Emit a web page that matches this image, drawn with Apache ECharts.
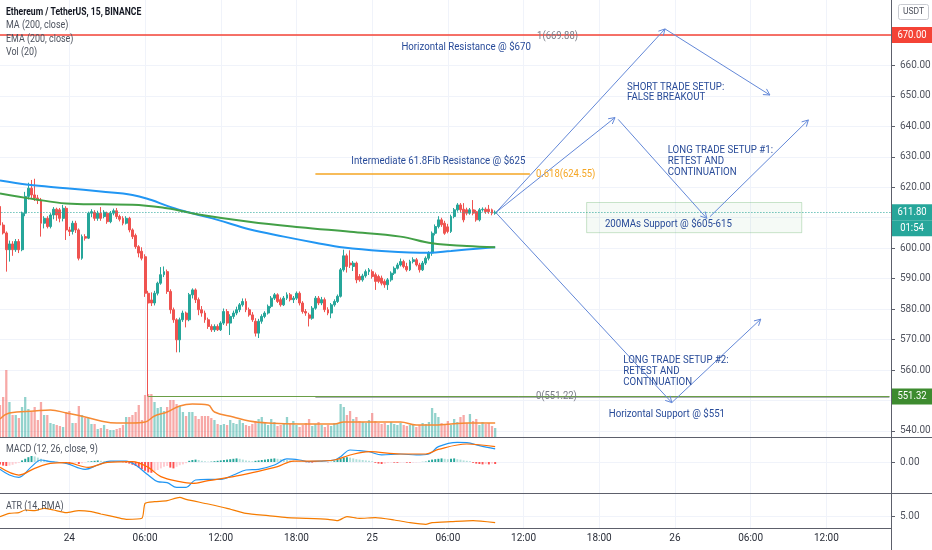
<!DOCTYPE html>
<html><head><meta charset="utf-8">
<script src="https://cdn.jsdelivr.net/npm/echarts@6/dist/echarts.min.js"></script>
<style>html,body{margin:0;padding:0;background:#fff}#c{width:932px;height:550px}</style>
</head><body><div id="c"></div>
<script>
// ---------- DATA ----------
const START_TIME = '2020-11-23T18:30:00';
const SLOT_COUNT = 283;
const tickSlots  = [22, 46, 70, 94, 118, 142, 166, 190, 214, 238, 262];
const tickLabels = ['24','06:00','12:00','18:00','25','06:00','12:00','18:00','26','06:00','12:00'];
const priceTicks = [540,550,560,570,580,590,600,610,620,630,640,650,660,670];
const priceLabels = [540,550,560,570,580,590,600,610,620,630,640,650,660];

// [open, close, low, high]
const candles = [
[613.7,607.6,606.5,614.5],[607.6,605.0,604.5,608.5],[605.0,599.5,592.3,605.5],[599.5,601.4,595.6,602.5],
[601.4,599.5,597.5,602.3],[599.5,602.2,598.8,603.0],[602.2,599.5,598.4,603.0],[599.5,611.5,599.0,612.0],
[611.5,617.0,610.5,618.5],[617.0,619.7,616.0,621.5],[619.7,617.5,616.5,622.4],[617.5,616.5,615.5,622.8],
[616.5,615.8,614.5,617.5],[615.8,608.2,603.8,616.5],[608.2,609.8,606.5,610.5],[609.8,607.1,606.5,610.5],
[607.1,610.9,606.5,611.5],[610.9,612.8,609.5,613.5],[612.8,610.9,609.0,613.3],[612.6,609.8,608.5,613.2],
[609.8,613.1,608.8,614.2],[613.1,606.0,602.7,613.8],[606.0,605.5,604.0,607.0],[605.5,608.2,604.5,609.0],
[608.2,606.0,605.0,609.0],[606.0,596.7,596.0,606.5],[596.7,603.8,596.2,604.5],[603.8,603.3,602.5,604.6],
[603.3,611.5,603.0,612.0],[611.5,612.0,610.2,612.8],[611.8,609.8,609.0,612.5],[609.8,611.5,609.0,612.3],
[611.5,609.8,609.0,613.5],[610.4,611.8,609.8,612.5],[611.5,608.7,608.0,612.0],[608.7,611.5,608.2,612.2],
[611.5,612.3,610.8,613.0],[612.3,610.4,609.6,613.2],[610.4,609.5,608.8,611.0],[609.8,608.2,607.5,610.5],
[608.2,609.8,607.8,610.5],[609.8,606.0,605.2,610.3],[606.0,603.8,603.0,606.5],[604.2,600.5,599.8,604.8],
[600.5,598.4,597.0,601.0],[599.0,596.7,596.0,600.3],[597.2,585.2,584.0,598.0],[585.2,582.0,551.3,586.0],
[583.0,582.0,581.0,585.5],[582.0,585.2,581.2,586.0],[585.2,588.5,584.5,589.0],[588.5,591.3,588.0,593.8],
[591.3,592.3,590.5,594.0],[592.3,585.8,585.0,593.0],[585.8,579.8,578.5,586.5],[579.8,576.5,575.5,580.5],
[576.5,569.9,565.8,577.0],[569.9,576.5,565.8,577.2],[576.5,578.7,575.8,579.5],[578.7,576.5,574.0,579.2],
[576.5,584.7,576.0,585.3],[584.7,586.3,583.5,586.8],[586.3,583.1,582.0,586.8],[583.1,579.8,578.0,583.8],
[579.8,578.7,577.5,581.0],[578.7,576.5,575.5,579.5],[576.5,574.3,573.5,577.2],[574.3,573.2,572.5,575.0],
[573.2,574.3,572.5,575.0],[574.3,573.2,572.8,575.0],[573.2,575.4,572.8,576.0],[575.4,579.2,574.8,580.2],
[579.2,575.4,574.5,580.0],[575.4,577.6,571.5,578.3],[577.6,578.7,576.8,579.5],[578.7,579.8,578.0,580.8],
[579.8,581.4,579.0,582.0],[581.4,582.5,580.8,583.5],[582.5,579.8,579.0,583.5],[579.8,578.1,577.5,580.5],
[578.1,576.5,575.8,579.0],[576.0,572.1,571.0,577.0],[572.1,576.0,570.5,576.8],[576.0,577.6,575.2,578.3],
[577.6,578.7,577.0,579.3],[578.7,580.9,578.2,581.5],[580.9,583.6,580.3,584.3],[583.6,584.7,583.0,585.3],
[584.7,582.5,582.0,585.2],[583.1,581.4,580.8,583.8],[581.4,583.6,581.0,584.3],[583.6,584.7,583.0,585.5],
[584.7,583.1,582.5,585.3],[583.1,583.6,582.0,584.3],[583.6,585.2,583.0,585.8],[585.2,582.0,581.2,585.8],
[582.0,579.2,578.5,582.6],[579.2,578.7,577.8,580.0],[578.1,577.0,574.3,578.8],[577.0,580.3,576.5,581.0],
[580.3,583.6,579.8,584.3],[583.6,582.0,581.3,584.3],[582.0,583.1,581.3,584.0],[583.1,579.8,579.0,583.8],
[579.8,578.7,578.0,580.6],[578.7,581.4,577.0,582.0],[581.4,582.5,580.8,583.2],[582.5,584.2,582.0,584.8],
[584.2,592.9,583.8,593.5],[592.9,597.5,592.3,599.5],[597.5,594.0,592.0,598.2],[595.1,594.5,593.5,599.3],
[594.0,595.1,592.5,595.8],[595.1,589.6,588.5,595.6],[590.7,589.6,589.0,591.5],[589.6,590.9,589.0,591.6],
[590.9,592.3,590.3,593.0],[592.3,592.9,591.2,593.5],[592.3,590.7,590.0,593.0],[591.3,589.1,586.3,592.0],
[590.7,589.1,588.5,591.3],[590.2,588.5,587.8,591.0],[589.1,588.0,587.0,589.8],[588.0,589.6,586.3,590.2],
[589.6,591.8,589.0,592.4],[591.8,593.4,591.2,594.0],[593.4,594.5,593.0,595.2],[594.5,595.6,594.0,596.6],
[595.6,594.0,593.4,596.2],[594.0,592.9,592.3,595.2],[592.9,595.6,592.5,596.2],[595.6,596.2,595.0,597.0],
[596.2,594.5,594.0,596.8],[594.5,592.9,592.0,595.2],[592.9,595.1,592.5,595.8],[595.1,596.7,594.5,597.3],
[596.7,598.4,596.0,599.0],[598.4,604.9,597.5,605.5],[604.9,607.1,604.2,607.8],[607.1,609.3,606.5,610.5],
[609.3,607.7,607.0,610.0],[608.2,604.9,604.4,609.0],[607.0,605.5,604.9,608.0],[605.5,610.4,605.0,611.0],
[610.4,612.6,609.8,613.2],[612.6,614.2,612.0,614.8],[614.2,612.6,611.8,614.8],[612.8,609.3,608.5,614.8],
[612.6,611.5,610.8,613.3],[611.5,612.6,611.0,613.2],[612.6,611.5,610.8,615.8],[612.0,609.3,608.7,612.6],
[609.3,612.6,608.8,613.2],[612.6,612.8,612.0,613.4],[612.8,612.0,611.3,613.4],[612.8,612.0,611.3,614.2],
[612.6,611.5,610.8,613.0],[611.5,611.8,611.0,612.4]
];

const volumes = [
32,40,67,35,22,22,19,30,40,28, 25,30,17,35,22,22,14,13,12,11,
10,25,26,14,14,31,22,19,19,13, 13,8,9,12,8,7,7,8,9,12,
20,20,22,25,32,17,42,43,43,35, 29,30,26,30,37,37,33,31,25,21,
25,25,21,18,21,21,21,19,17,13, 12,13,12,17,14,13,17,14,12,11,
13,16,18,20,14,12,18,15,11,12,14,20,13,16,12,10,12,14,18,11,13,15,12,10,12,11,14,13,
33,30,22,26,18,20,16,15,14,17,24,16,14,
13,14,12,15,13,12,14,12,11,12,13,10,12,14,13,15,
29,24,20,14,13,16,12,18,15,20,22,14,23,16,18,12,15,13,14,11,9
];

const maIdx  = [0,9,21,32,42,48,53,59,63,69,79,90,100,109,121,136,143,153,157];
const maVal  = [622.2,620.8,619.7,618.6,617.5,615.8,613.9,612.0,610.9,609.3,606.2,603.8,601.8,600.2,599.1,598.5,599.1,600.0,600.3];
const emaIdx = [0,11,21,32,42,53,63,79,95,111,127,137,148,157];
const emaVal = [618.0,616.1,614.7,614.4,614.3,613.1,611.1,608.7,606.9,605.4,603.8,601.6,600.7,600.3];
const volMaIdx = [0,3,11,16,21,27,32,37,42,46,49,53,57,61,66,68,74,79,85,95,106,109,116,127,132,137,143,148,157];
const volMaVal = [18,24,26,27,24,20,16,14,14,15,21,25,31,33,32,25,20,16,14,13,13,15,15,15,12,12,13,14,14];

const macdIdx = [0,3,6,10,13,16,21,27,31,35,40,43,47,50,53,56,59,62,66,70,74,78,82,87,91,95,98,102,106,108,111,114,117,121,127,132,136,139,145,148,152,157];
const macdVal = [-0.92,-1.63,-1.92,-0.58,0.25,0.04,-0.17,-0.92,-0.38,0.12,0.12,-0.38,-1.63,-2.46,-2.58,-3.17,-3.17,-2.25,-2.17,-2.17,-1.63,-1.0,-0.92,-0.38,0.38,0.25,0.04,0.12,0.25,0.67,1.5,1.42,1.29,0.88,1.0,0.88,1.0,1.92,2.46,2.42,2.04,1.63];
const sigIdx = [0,6,11,16,21,28,34,42,47,51,57,61,66,74,80,88,93,100,106,111,117,127,135,139,148,157];
const sigVal = [-0.67,-1.63,-0.79,-0.17,-0.08,-0.67,-0.05,0.04,-0.67,-1.83,-2.46,-2.67,-2.33,-1.83,-1.33,-0.58,0.12,0.12,0.25,0.88,1.29,1.0,1.0,1.58,2.25,1.92];
const macdHist = [
-0.3,-0.45,-0.5,-0.45,-0.35,-0.2,-0.1,
0.2,0.4,0.6,0.75,0.7,
0.55,0.4,0.3,0.2,0.15,
0.1,0.05,-0.05,-0.1,-0.2,-0.3,
-0.15,-0.1,-0.25,-0.15,-0.05,
0.05,0.1,0.15,0.2,0.15,0.1,0.1,0.05,
0.05,0.02,0,-0.03,-0.1,
-0.2,-0.35,-0.5,-0.7,-0.9,-1.1,-1.3,-1.35,-1.2,
-1.0,-0.8,-0.6,-0.5,-0.7,-0.8,-0.6,-0.4,-0.3,-0.15,
0.15,0.25,0.3,0.25,0.15,0.1,0.05,0.05,0.1,
0.15,0.2,0.25,0.3,0.35,0.4,0.45,0.4,0.3,
0.2,0.15,0.1,
0.15,0.2,0.25,0.3,0.35,0.4,0.45,0.4,0.35,
0.3,0.25,0.2,0.15,0.1,0.05,
0.02,-0.03,-0.05,-0.08,-0.05,0.02,0.03,0.02,-0.02,0.03,0.1,
0.3,0.45,0.55,0.6,0.55,0.45,
0.35,0.3,0.25,0.2,0.15,0.1,
-0.1,-0.2,-0.25,-0.2,-0.1,
-0.05,-0.08,-0.1,-0.06,-0.05,-0.08,-0.1,-0.07,-0.05,-0.03,0.02,0.05,
0.2,0.3,0.35,0.4,0.45,0.4,0.35,0.4,0.45,
0.35,0.3,0.2,0.15,0.1,
-0.1,-0.2,-0.25,-0.3,-0.25,-0.3,-0.2,-0.25
];
const atrIdx = [0,3,6,8,11,14,17,21,25,29,32,37,40,45,46,49,53,57,59,66,72,78,85,91,97,104,107,110,114,119,125,130,135,137,143,150,157];
const atrVal = [4.92,5.33,5.42,5.75,5.67,5.96,5.75,5.42,5.67,5.54,5.25,4.83,4.58,4.71,6.58,6.79,6.92,7.33,7.08,6.5,5.96,5.33,5.04,4.79,4.71,4.58,4.42,4.92,4.71,4.79,4.5,4.17,3.96,4.17,4.29,4.42,4.17];

// price levels
const resistance = 670.00, lastPrice = 611.80, support = 551.32;
const fibStartIdx = 100, fibLevels = [669.88, 624.55, 551.22], fib618EndIdx = 168;
const supportStartIdx = 47;

// annotations: [slot index, price]
const arrows = [
  [[157.3,611.8],[210.85,672.0]], [[210.85,672.0],[244.1,650.3]],
  [[157.3,611.8],[195.0,642.9]],  [[196.0,642.3],[224.1,609.8]], [[225.1,610.35],[256.3,642.1]],
  [[157.3,611.6],[213.0,549.3]],  [[213.0,549.3],[241.2,576.7]]
];
const noteTexts = [
  ['Horizontal Resistance @ $670', 147.8, 666.1, 'center'],
  ['Intermediate 61.8Fib Resistance @ $625', 139.0, 628.6, 'center'],
  ['SHORT TRADE SETUP:', 198.8, 653.0, 'left'],
  ['FALSE BREAKOUT', 198.8, 649.5, 'left'],
  ['LONG TRADE SETUP #1:', 211.7, 632.2, 'left'],
  ['RETEST AND', 211.7, 628.7, 'left'],
  ['CONTINUATION', 211.7, 625.1, 'left'],
  ['200MAs Support @ $605-615', 191.8, 608.0, 'left'],
  ['LONG TRADE SETUP #2:', 197.6, 563.1, 'left'],
  ['RETEST AND', 197.6, 559.6, 'left'],
  ['CONTINUATION', 197.6, 556.0, 'left'],
  ['Horizontal Support @ $551', 211.45, 545.6, 'center']
];
const fibTexts = [
  ['1(669.88)', 170.3, 669.7, '#787b86'],
  ['0.618(624.55)', 169.95, 624.4, '#f5a623'],
  ['0(551.22)', 169.95, 551.3, '#787b86']
];
const supportBox = [[186.0, 615.0], [254.2, 605.1]];

// ---------- CHART ----------
const FONT = "Roboto,'Liberation Sans',sans-serif";
const categories = [];
const t0 = new Date(START_TIME).getTime();
for (let i = 0; i < SLOT_COUNT; i++) {
  const d = new Date(t0 + i * 900000);
  categories.push(d.getDate() + ' ' + String(d.getHours()).padStart(2,'0') + ':' + String(d.getMinutes()).padStart(2,'0'));
}
const tickSet = new Set(tickSlots);
const labelMap = {}; tickSlots.forEach((s,k)=>labelMap[s]=tickLabels[k]);
const pairs = (ix, vs) => ix.map((x,k)=>[x, vs[k]]);
const GRID_C = '#f0f3fa', LINE_C = '#5d606b', AX_TXT = '#50535e';

const volData = volumes.map((v,i)=>({value:v, itemStyle:{color: candles[i][1] >= candles[i][0] ? 'rgba(38,166,154,0.5)' : 'rgba(239,83,80,0.5)'}}));
const histData = macdHist.map((v,i)=>{
  const p = i > 0 ? macdHist[i-1] : 0;
  const c = v >= 0 ? (v >= p ? '#26a69a' : '#b2dfdb') : (v <= p ? '#ff5252' : '#ffcdd2');
  return {value:v, itemStyle:{color:c}};
});

const gridBase = {left:-1.6, right:41, outerBoundsMode:'none', containLabel:false};
const xBase = (gi, showLabel) => ({
  type:'category', gridIndex:gi, data:categories, boundaryGap:true,
  axisLine:{show:false}, axisTick:{show:false},
  axisLabel:{show:showLabel, interval:(i)=>tickSet.has(i), formatter:(v,i)=>labelMap[i] || '',
    color:'#2a2e39', fontSize:10, margin:5, fontFamily:FONT},
  splitLine:{show:true, alignWithLabel:true, interval:(i)=>tickSet.has(i), lineStyle:{color:GRID_C, width:1}}
});
const yRight = (gi, min, max, vals, fmt) => ({
  type:'value', gridIndex:gi, position:'right', min, max, scale:true,
  axisLine:{show:false},
  axisTick:{show:true, length:4, customValues:vals, lineStyle:{color:LINE_C}},
  axisLabel:{show:true, customValues:vals, formatter:fmt, color:AX_TXT, fontSize:10, margin:9, fontFamily:FONT},
  splitLine:{show:true, lineStyle:{color:GRID_C, width:1}}
});

const mainY = yRight(0, 538, 681.5, priceTicks, v=>v.toFixed(2));
mainY.axisLabel.customValues = priceLabels;

const chart = echarts.init(document.getElementById('c'), null, {renderer:'canvas'});
const option = {
  animation:false,
  backgroundColor:'#ffffff',
  textStyle:{fontFamily:FONT},
  grid:[
    Object.assign({top:0, height:437}, gridBase),
    Object.assign({top:437, height:56}, gridBase),
    Object.assign({top:493, height:35}, gridBase)
  ],
  xAxis:[ xBase(0,false), xBase(1,false), xBase(2,true) ],
  yAxis:[
    mainY,
    {type:'value', gridIndex:0, min:0, max:437, show:false, splitLine:{show:false}},
    yRight(1, -3.875, 3.125, [0], v=>v.toFixed(2)),
    yRight(2, 3.5, 7.875, [5], v=>v.toFixed(2))
  ],
  series:[
    {type:'bar', name:'Vol', xAxisIndex:0, yAxisIndex:1, data:volData, barWidth:'72%', z:1, silent:true},
    {type:'line', name:'VolMA', xAxisIndex:0, yAxisIndex:1, data:pairs(volMaIdx, volMaVal), smooth:0.4,
      symbol:'none', lineStyle:{color:'#f68a34', width:1.5}, z:2},
    {type:'candlestick', name:'ETHUSDT', xAxisIndex:0, yAxisIndex:0, data:candles, barWidth:'76%', z:3,
      itemStyle:{color:'#26a69a', color0:'#ef5350', borderColor:'#26a69a', borderColor0:'#ef5350', borderWidth:1},
      markLine:{silent:true, symbol:['none','none'], label:{show:false}, animation:false,
        data:[
          [{coord:[fibStartIdx, fibLevels[2]], lineStyle:{color:'#8d9498', width:1.5, type:'solid'}},
           {coord:[SLOT_COUNT-1, fibLevels[2]], lineStyle:{color:'#8d9498', width:1.5, type:'solid'}}],
          [{coord:[supportStartIdx, support], lineStyle:{color:'#6a9e46', width:1, type:'solid'}},
           {coord:[SLOT_COUNT-1, support], lineStyle:{color:'#6a9e46', width:1, type:'solid'}}],
          [{coord:[fibStartIdx, fibLevels[1]], lineStyle:{color:'#f5a623', width:1.5, type:'solid'}},
           {coord:[fib618EndIdx, fibLevels[1]], lineStyle:{color:'#f5a623', width:1.5, type:'solid'}}],
          {yAxis:lastPrice, lineStyle:{color:'#26a69a', width:1, type:[1,2]}},
          {yAxis:resistance, lineStyle:{color:'#f44336', width:1.5, type:'solid'}}
        ]}
    },
    {type:'line', name:'MA 200', xAxisIndex:0, yAxisIndex:0, data:pairs(maIdx, maVal), smooth:0.4,
      symbol:'none', lineStyle:{color:'#2196f3', width:2}, z:4},
    {type:'line', name:'EMA 200', xAxisIndex:0, yAxisIndex:0, data:pairs(emaIdx, emaVal), smooth:0.4,
      symbol:'none', lineStyle:{color:'#43a047', width:2}, z:4},
    {type:'bar', name:'Histogram', xAxisIndex:1, yAxisIndex:2, data:histData, barWidth:'62%', silent:true},
    {type:'line', name:'MACD', xAxisIndex:1, yAxisIndex:2, data:pairs(macdIdx, macdVal), smooth:0.35,
      symbol:'none', lineStyle:{color:'#2196f3', width:1.2}},
    {type:'line', name:'Signal', xAxisIndex:1, yAxisIndex:2, data:pairs(sigIdx, sigVal), smooth:0.35,
      symbol:'none', lineStyle:{color:'#ff6d00', width:1.2}},
    {type:'line', name:'ATR', xAxisIndex:2, yAxisIndex:3, data:pairs(atrIdx, atrVal), smooth:0.2,
      symbol:'none', lineStyle:{color:'#f57c00', width:1.2}}
  ]
};
chart.setOption(option);

// ---------- ANNOTATIONS (placed through the axes' own scales) ----------
function px(idx, price) {
  const i0 = Math.floor(idx), f = idx - i0;
  const x0 = chart.convertToPixel({xAxisIndex:0}, i0);
  const x1 = chart.convertToPixel({xAxisIndex:0}, i0 + 1);
  const y = chart.convertToPixel({yAxisIndex:0}, price);
  return [x0 + (x1 - x0) * f, y];
}
const NAVY = '#284b99', ARROW = '#6388d8';
const g = [];
{
  const [bx1, by1] = px(supportBox[0][0], supportBox[0][1]);
  const [bx2, by2] = px(supportBox[1][0], supportBox[1][1]);
  g.push({type:'rect', z:50, shape:{x:bx1, y:by1, width:bx2-bx1, height:by2-by1},
    style:{fill:'rgba(67,160,71,0.05)', stroke:'rgba(67,160,71,0.28)', lineWidth:1}});
}
arrows.forEach(([a,b])=>{
  const [x1,y1] = px(a[0],a[1]), [x2,y2] = px(b[0],b[1]);
  const ang = Math.atan2(y2-y1, x2-x1), L = 7, s = 0.5;
  g.push({type:'line', z:60, shape:{x1,y1,x2,y2}, style:{stroke:ARROW, lineWidth:1}});
  g.push({type:'polyline', z:60, shape:{points:[
    [x2 - L*Math.cos(ang - s), y2 - L*Math.sin(ang - s)], [x2, y2],
    [x2 - L*Math.cos(ang + s), y2 - L*Math.sin(ang + s)]]}, style:{stroke:ARROW, lineWidth:1, fill:null}});
});
function addText(str, x, y, color, align, font, sx, z) {
  g.push({type:'text', z: z || 70, x, y, scaleX: sx || 1, style:{text:str, x:0, y:0, fill:color, font:font || ('11px ' + FONT),
    textAlign:align, textVerticalAlign:'middle', align:align, verticalAlign:'middle'}});
}
noteTexts.forEach(([t, i, p, al])=>{ const [x,y] = px(i,p); addText(t, x, y, NAVY, al, '11px ' + FONT, 0.88); });
fibTexts.forEach(([t, i, p, c])=>{ const [x,y] = px(i,p); addText(t, x, y, c, 'left', '10.5px ' + FONT, 0.9); });

const W = 932;
g.push({type:'line', z:80, shape:{x1:0, y1:437.5, x2:W, y2:437.5}, style:{stroke:LINE_C, lineWidth:1}});
g.push({type:'line', z:80, shape:{x1:0, y1:493.5, x2:W, y2:493.5}, style:{stroke:LINE_C, lineWidth:1}});
g.push({type:'line', z:80, shape:{x1:0, y1:528.5, x2:891, y2:528.5}, style:{stroke:LINE_C, lineWidth:1}});
g.push({type:'line', z:80, shape:{x1:891.5, y1:0, x2:891.5, y2:550}, style:{stroke:LINE_C, lineWidth:1}});

addText('Ethereum / TetherUS, 15, BINANCE', 6, 12.5, '#131722', 'left', 'bold 11px ' + FONT, 0.78);
addText('MA (200, close)', 6, 25.5, '#4c525e', 'left', '10.5px ' + FONT, 0.85);
addText('EMA (200, close)', 6, 39, '#4c525e', 'left', '10.5px ' + FONT, 0.85);
addText('Vol (20)', 6, 52, '#4c525e', 'left', '10.5px ' + FONT, 0.85);
addText('MACD (12, 26, close, 9)', 6, 449, '#4c525e', 'left', '10.5px ' + FONT, 0.85);
addText('ATR (14, RMA)', 6, 506, '#4c525e', 'left', '10.5px ' + FONT, 0.85);

function badge(price, text, color, dy) {
  const y = chart.convertToPixel({yAxisIndex:0}, price) + (dy || 0);
  g.push({type:'rect', z:90, shape:{x:892, y:y-8, width:40, height:16}, style:{fill:color}});
  addText(text, 912, y, '#ffffff', 'center', '10px ' + FONT, 0.95, 91);
}
badge(resistance, resistance.toFixed(2), '#f44336');
badge(lastPrice, lastPrice.toFixed(2), '#26a69a');
badge(lastPrice, '01:54', '#26a69a', 16);
badge(support, support.toFixed(2), '#3d8b2f');
g.push({type:'rect', z:90, shape:{x:898.5, y:4.5, width:30, height:15, r:2}, style:{fill:'#ffffff', stroke:'#c9cbd1', lineWidth:1}});
addText('USDT', 913.5, 12, '#50535e', 'center', '9.5px ' + FONT, 0.9, 91);

chart.setOption({graphic: g});
</script>
</body></html>
